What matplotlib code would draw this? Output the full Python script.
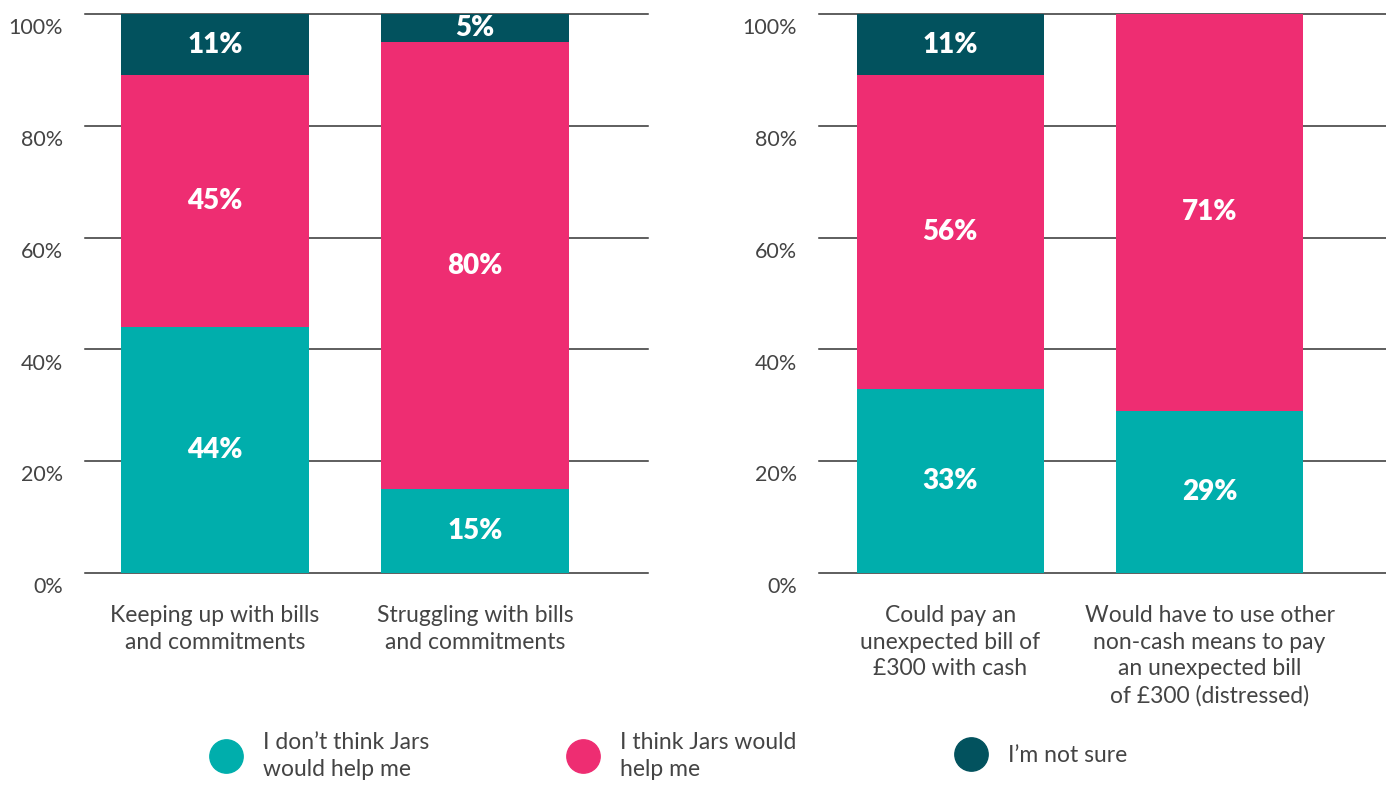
import matplotlib.pyplot as plt
import matplotlib.transforms as mtransforms
from matplotlib.lines import Line2D

plt.rcParams['font.family'] = ['Lato', 'DejaVu Sans']

# data
cats_left = ["Keeping up with bills\nand commitments",
             "Struggling with bills\nand commitments"]
dont_left = [44, 15]
think_left = [45, 80]
notsure_left = [11, 5]

cats_right = ["Could pay an\nunexpected bill of\n£300 with cash",
              "Would have to use other\nnon-cash means to pay\nan unexpected bill\nof £300 (distressed)"]
dont_right = [33, 29]
think_right = [56, 71]
notsure_right = [11, 0]

series_names = ["I don\u2019t think Jars\nwould help me",
                "I think Jars would\nhelp me",
                "I\u2019m not sure"]
colors = ["#00AEAC", "#EE2D72", "#02525E"]
yticks = [0, 20, 40, 60, 80, 100]
text_col = "#444444"

fig = plt.figure(figsize=(13.86, 7.86), dpi=100)
ax1 = fig.add_axes([85 / 1386, 1 - 573 / 786, 563 / 1386, 559 / 786])
ax2 = fig.add_axes([819 / 1386, 1 - 573 / 786, 567 / 1386, 559 / 786])


def draw(ax, cats, dont, think, notsure, xlim):
    x = list(range(len(cats)))
    bottom = [0] * len(cats)
    for vals, c in zip([dont, think, notsure], colors):
        bars = ax.bar(x, vals, width=0.72, bottom=bottom, color=c, zorder=2)
        for b, v in zip(bars, vals):
            if v > 0:
                ax.text(b.get_x() + b.get_width() / 2, b.get_y() + v / 2,
                        f"{v}%", ha='center', va='center', color='white',
                        fontsize=20, fontweight='heavy', zorder=3)
        bottom = [a + v for a, v in zip(bottom, vals)]
    ax.set_xlim(*xlim)
    ax.set_ylim(0, 100)
    ax.set_yticks(yticks)
    ax.set_yticklabels([f"{t}%" for t in yticks], va='top')
    ax.set_xticks(x)
    ax.set_xticklabels(cats)
    ax.tick_params(axis='y', length=0, pad=16, labelsize=15.5, labelcolor=text_col)
    ax.tick_params(axis='x', length=0, pad=23, labelsize=16.5, labelcolor=text_col)
    off = mtransforms.ScaledTranslation(0, -3 / 72, fig.dpi_scale_trans)
    for t in ax.get_yticklabels():
        t.set_transform(t.get_transform() + off)
    for t in ax.get_xticklabels():
        t.set_linespacing(1.33)
    for s in ax.spines.values():
        s.set_visible(False)
    ax.grid(axis='y', color='#333333', linewidth=1.1, zorder=0)
    ax.set_axisbelow(True)
    for gl in ax.get_ygridlines():
        gl.set_clip_on(False)


draw(ax1, cats_left, dont_left, think_left, notsure_left, (-0.5, 1.665))
draw(ax2, cats_right, dont_right, think_right, notsure_right, (-0.506, 1.68))

# legend, one item each
leg_x = [209, 566, 954]
for name, c, lx in zip(series_names, colors, leg_x):
    h = Line2D([], [], marker='o', ls='', color=c, markersize=24)
    leg = fig.legend(handles=[h], labels=[name], loc='center left',
                     bbox_to_anchor=(lx / 1386, 1 - 756 / 786), frameon=False,
                     borderpad=0, borderaxespad=0, handlelength=1.5,
                     handletextpad=0.85, fontsize=16.5, labelcolor=text_col)
    for t in leg.get_texts():
        t.set_linespacing(1.3)

fig.savefig("out.png", dpi=100)
